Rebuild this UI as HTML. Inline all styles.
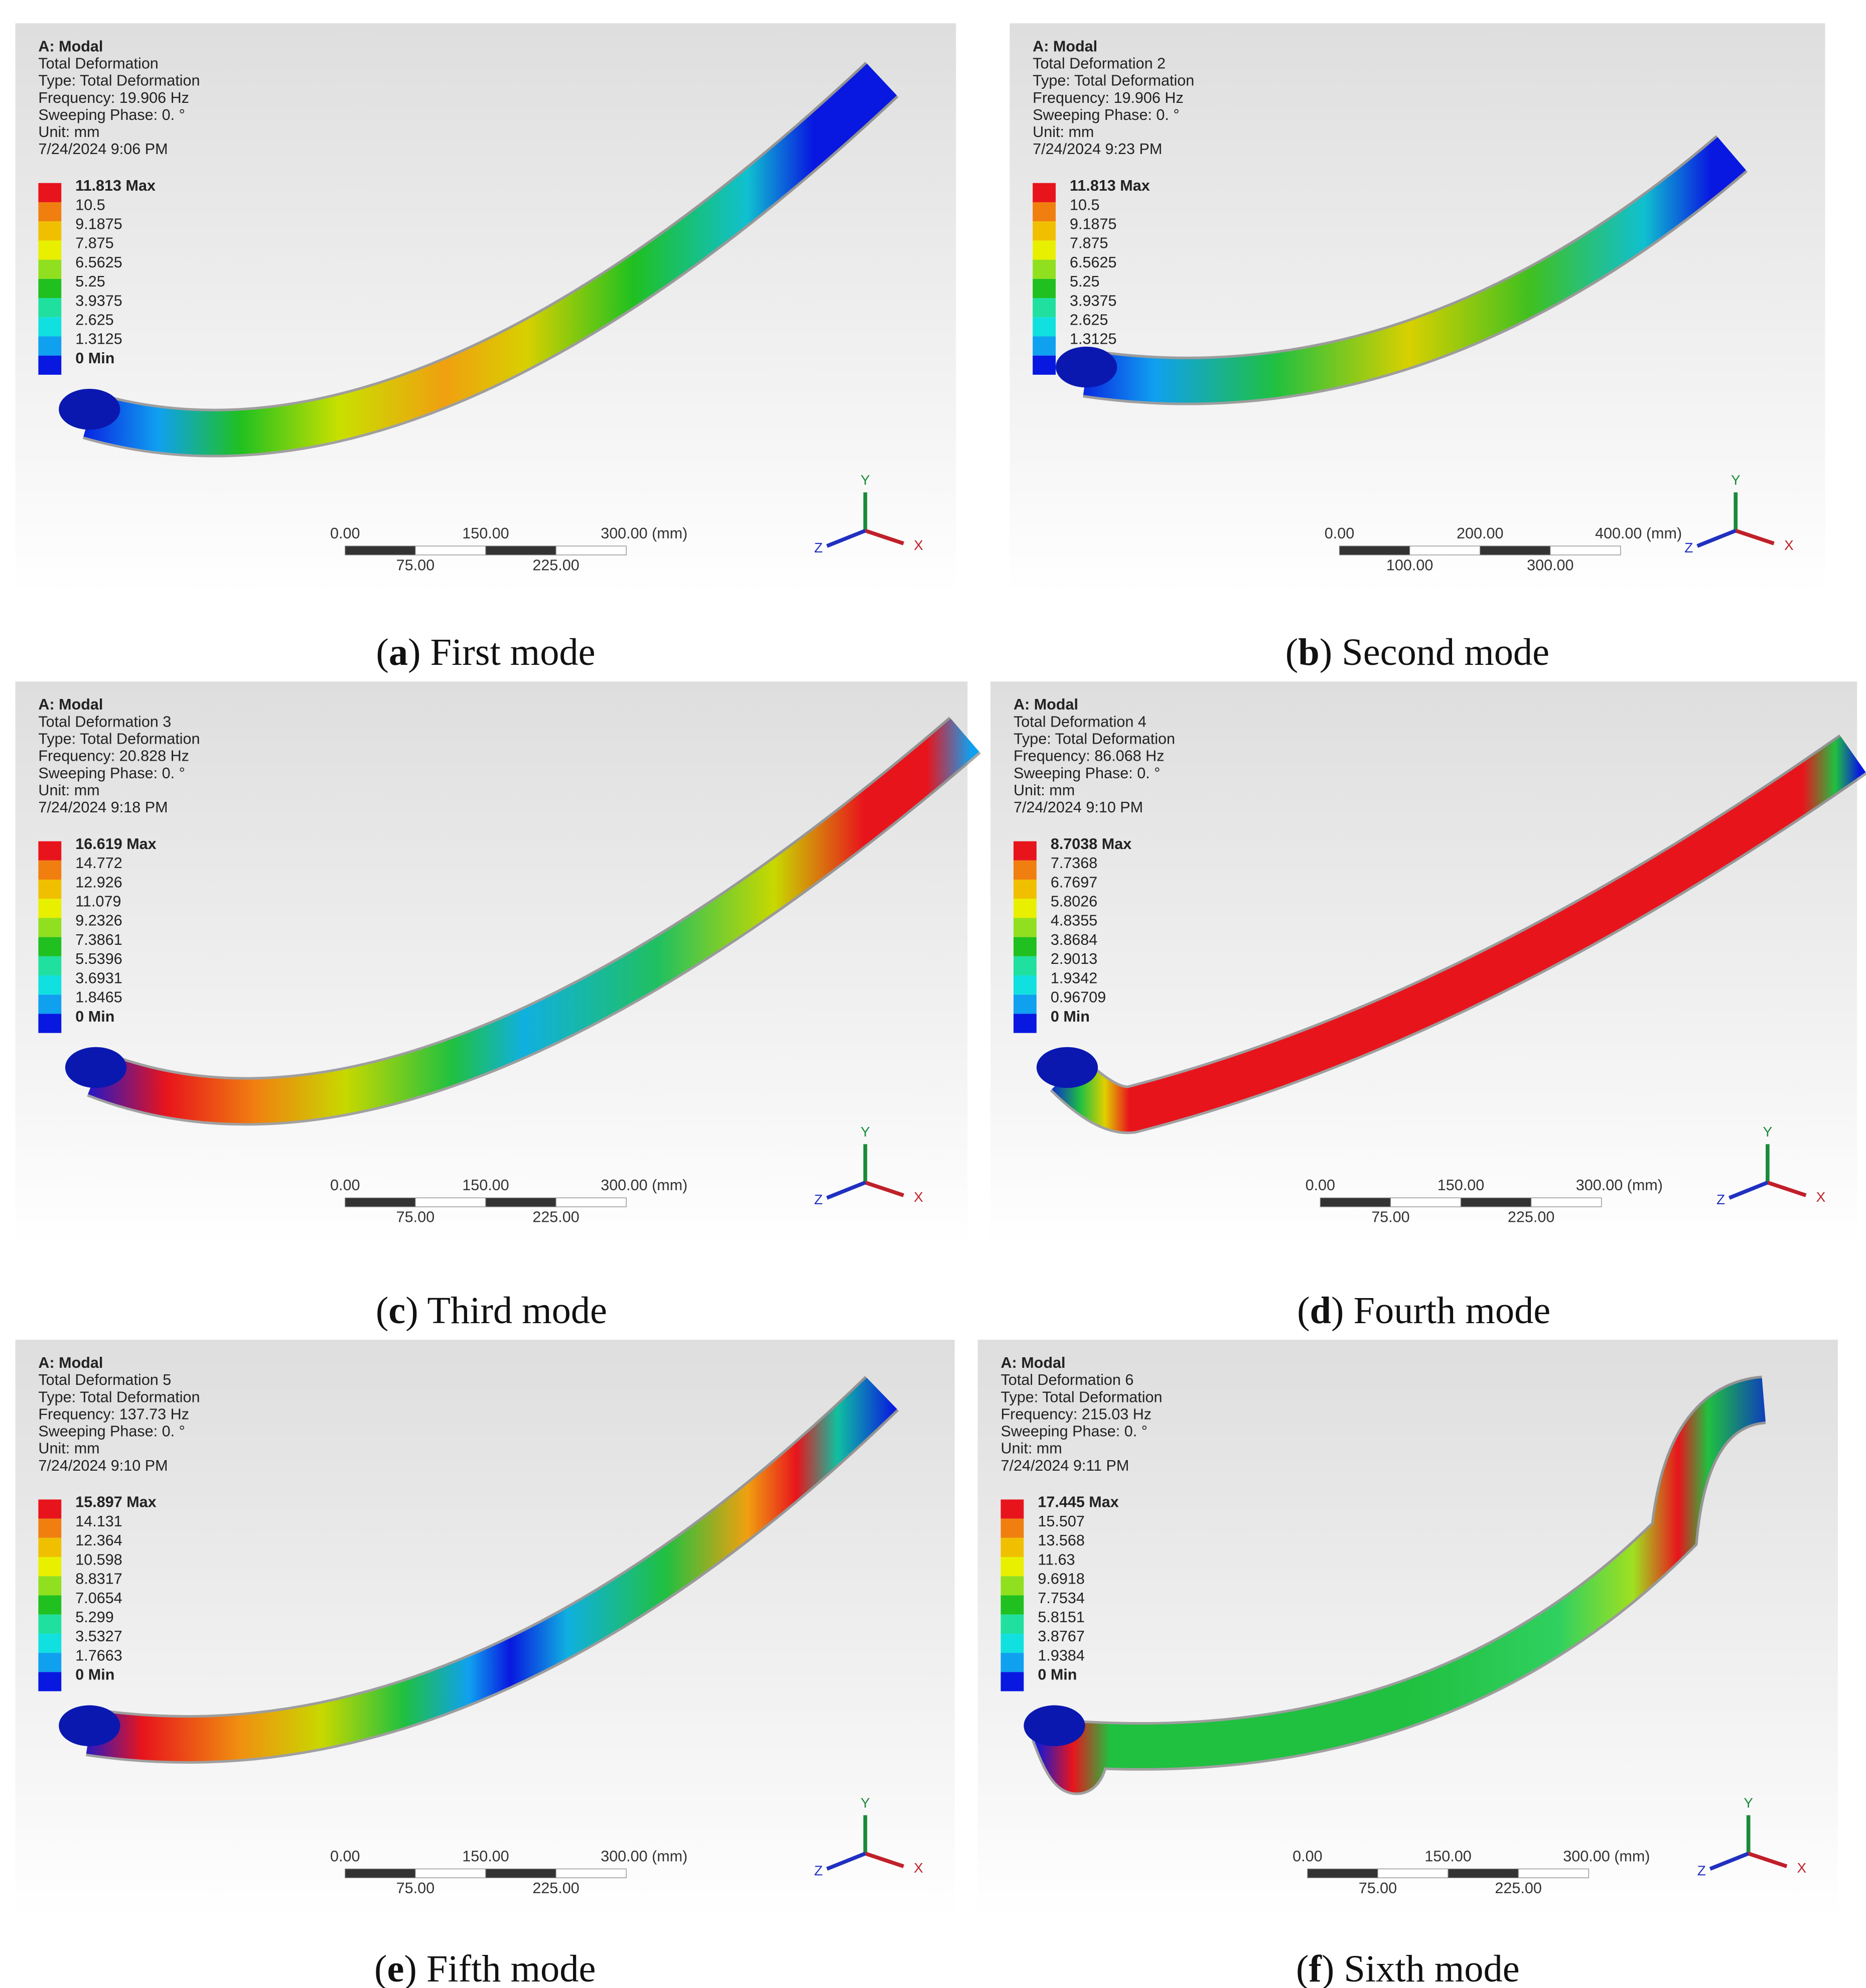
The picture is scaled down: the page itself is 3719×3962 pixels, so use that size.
<!DOCTYPE html>
<html><head><meta charset="utf-8"><style>
html,body{margin:0;padding:0;background:#fff}
svg{display:block}
</style></head><body>
<svg id="fig" width="3719" height="3962" viewBox="0 0 1460 1555" xmlns="http://www.w3.org/2000/svg" font-family="Liberation Sans, sans-serif">
<defs>
<linearGradient id="bg" x1="0" y1="0" x2="0" y2="1"><stop offset="0" stop-color="#dedede"/><stop offset="0.75" stop-color="#f6f6f6"/><stop offset="1" stop-color="#ffffff"/></linearGradient>
</defs>
<g id="panels"></g>
</svg>
<script>
const colors=['#e8141c','#f07f10','#f0c000','#e8f000','#90e020','#20c020','#20e0a0','#10e0e0','#10a0f0','#0818e0'];
const panelBoxes=[[12,18,736,447],[790,18,638,447],[12,533,745,442],[775,533,678,442],[12,1048,735,452],[765,1048,673,452]];
const captionY=[520,520,1035,1035,1550,1550];
const titles=['Total Deformation','Total Deformation 2','Total Deformation 3','Total Deformation 4','Total Deformation 5','Total Deformation 6'];
const freqs=['19.906 Hz','19.906 Hz','20.828 Hz','86.068 Hz','137.73 Hz','215.03 Hz'];
const times=['9:06 PM','9:23 PM','9:18 PM','9:10 PM','9:10 PM','9:11 PM'];
const legendA=['11.813 Max','10.5','9.1875','7.875','6.5625','5.25','3.9375','2.625','1.3125','0 Min'];
const legendC=['16.619 Max','14.772','12.926','11.079','9.2326','7.3861','5.5396','3.6931','1.8465','0 Min'];
const legendD=['8.7038 Max','7.7368','6.7697','5.8026','4.8355','3.8684','2.9013','1.9342','0.96709','0 Min'];
const legendE=['15.897 Max','14.131','12.364','10.598','8.8317','7.0654','5.299','3.5327','1.7663','0 Min'];
const legendF=['17.445 Max','15.507','13.568','11.63','9.6918','7.7534','5.8151','3.8767','1.9384','0 Min'];
const legends=[legendA,legendA,legendC,legendD,legendE,legendF];
const captionsB=['a','b','c','d','e','f'];
const captionsT=[' First mode',' Second mode',' Third mode',' Fourth mode',' Fifth mode',' Sixth mode'];
const scaleTop=[['0.00','150.00','300.00 (mm)'],['0.00','200.00','400.00 (mm)'],['0.00','150.00','300.00 (mm)'],['0.00','150.00','300.00 (mm)'],['0.00','150.00','300.00 (mm)'],['0.00','150.00','300.00 (mm)']];
const scaleBot=[['75.00','225.00'],['100.00','300.00'],['75.00','225.00'],['75.00','225.00'],['75.00','225.00'],['75.00','225.00']];
const springs=[
 {d:'M70,325 Q330,400 690,62',st:[[0,'#0818e0'],[.1,'#10a0f0'],[.2,'#20c020'],[.32,'#c8e000'],[.45,'#f0a010'],[.55,'#d8d000'],[.68,'#20c020'],[.82,'#10c0d0'],[.9,'#0818e0'],[1,'#0818e0']],sx:[60,700]},
 {d:'M850,292 Q1110,330 1355,120',st:[[0,'#0818e0'],[.12,'#10a0f0'],[.3,'#20c040'],[.5,'#d8d000'],[.68,'#40c020'],[.85,'#10c0d0'],[.95,'#0818e0'],[1,'#0818e0']],sx:[840,1365]},
 {d:'M75,840 Q330,940 755,575',st:[[0,'#0818e0'],[.1,'#e8141c'],[.2,'#f08010'],[.3,'#c8d800'],[.42,'#20c040'],[.5,'#10b0e0'],[.65,'#20c060'],[.78,'#c8d800'],[.88,'#e8141c'],[.95,'#e8141c'],[1,'#10a0f0']],sx:[60,760]},
 {d:'M835,840 Q865,870 885,868 Q1150,800 1450,590',st:[[0,'#0818e0'],[.04,'#20c040'],[.07,'#e0d000'],[.1,'#e8141c'],[.93,'#e8141c'],[.97,'#20c040'],[1,'#0818e0']],sx:[820,1455]},
 {d:'M70,1355 Q370,1400 690,1090',st:[[0,'#0818e0'],[.08,'#e8141c'],[.2,'#f09010'],[.3,'#c8d800'],[.4,'#20c040'],[.48,'#10a0f0'],[.53,'#0818e0'],[.6,'#10b0e0'],[.72,'#20c040'],[.82,'#f0a010'],[.88,'#e8141c'],[.93,'#10c0a0'],[1,'#0818e0']],sx:[60,700]},
 {d:'M825,1355 Q845,1410 850,1365 Q1130,1380 1310,1200 Q1320,1100 1380,1095',st:[[0,'#0818e0'],[.05,'#e8141c'],[.1,'#20c040'],[.5,'#20c040'],[.7,'#30d060'],[.8,'#a0e020'],[.86,'#e8141c'],[.9,'#20c040'],[1,'#0818e0']],sx:[810,1395]}
];
const NS='http://www.w3.org/2000/svg';
const root=document.getElementById('panels');
function mk(tag,attrs,parent,text){const e=document.createElementNS(NS,tag);for(const k in attrs)e.setAttribute(k,attrs[k]);if(text!==undefined)e.textContent=text;parent.appendChild(e);return e;}
panelBoxes.forEach((b,i)=>{
 const [x,y,w,h]=b;
 const g=mk('g',{},root);
 
 
 mk('rect',{x:x,y:y,width:w,height:h,fill:'url(#bg)'},g);
 const info=['A: Modal',titles[i],'Type: Total Deformation','Frequency: '+freqs[i],'Sweeping Phase: 0. °','Unit: mm','7/24/2024 '+times[i]];
 info.forEach((t,k)=>{const e=mk('text',{x:x+18,y:y+22+k*13.4,'font-size':12,fill:'#222','font-weight':k==0?'bold':'normal'},g,t);
  
  });
 const ly=y+125;
 legends[i].forEach((t,k)=>{
  mk('rect',{x:x+18,y:ly+k*15,width:18,height:15,fill:colors[k]},g);
  const e=mk('text',{x:x+47,y:ly+k*15+6,'font-size':12,fill:'#222','font-weight':(k==0||k==9)?'bold':'normal'},g,t);
  
  
 });
 const s=springs[i];
 const gid='sg'+i;
 const lg=mk('linearGradient',{id:gid,gradientUnits:'userSpaceOnUse',x1:s.sx[0],y1:0,x2:s.sx[1],y2:0},g);
 s.st.forEach(st=>mk('stop',{offset:st[0],'stop-color':st[1]},lg));
 mk('path',{d:s.d,fill:'none',stroke:'rgba(0,0,0,0.35)','stroke-width':38,'stroke-linecap':'butt'},g);
 const sp=mk('path',{d:s.d,fill:'none',stroke:'url(#'+gid+')','stroke-width':34,'stroke-linecap':'butt'},g);
 
 
 const m=s.d.match(/^M([\d.]+),([\d.]+)/);
 mk('ellipse',{cx:+m[1],cy:+m[2]-5,rx:24,ry:16,fill:'#0a18b0'},g);
 const bx=x+258, by=y+h-38;
 const sw=220/4;
 for(let k=0;k<4;k++) mk('rect',{x:bx+k*sw,y:by,width:sw,height:7,fill:k%2?'#fff':'#333',stroke:'#888','stroke-width':0.5},g);
 scaleTop[i].forEach((t,k)=>{const e=mk('text',{x:k==2?bx+200:bx+k*110,y:by-6,'font-size':12,fill:'#333','text-anchor':k==2?'start':'middle'},g,t);
  
  });
 scaleBot[i].forEach((t,k)=>{const e=mk('text',{x:bx+sw+k*2*sw,y:by+19,'font-size':12,fill:'#333','text-anchor':'middle'},g,t);
  
  });
 const tx=Math.min(x+w-70,x+665), ty=y+h-50;
 mk('line',{x1:tx,y1:ty,x2:tx,y2:ty-30,stroke:'#1a8a3a','stroke-width':3},g);
 mk('line',{x1:tx,y1:ty,x2:tx+30,y2:ty+10,stroke:'#c0202a','stroke-width':3},g);
 mk('line',{x1:tx,y1:ty,x2:tx-30,y2:ty+12,stroke:'#2030c0','stroke-width':3},g);
 mk('text',{x:tx,y:ty-36,'font-size':11,fill:'#1a8a3a','text-anchor':'middle'},g,'Y');
 mk('text',{x:tx+38,y:ty+15,'font-size':11,fill:'#c0202a'},g,'X');
 mk('text',{x:tx-40,y:ty+17,'font-size':11,fill:'#2030c0'},g,'Z');
 const cap=mk('text',{x:x+w/2,y:captionY[i],'font-size':30,fill:'#111','text-anchor':'middle','font-family':'Liberation Serif, serif'},g);
 
 
 mk('tspan',{},cap,'(');
 mk('tspan',{'font-weight':'bold'},cap,captionsB[i]);
 mk('tspan',{},cap,')'+captionsT[i]);
});
</script>
</body></html>
